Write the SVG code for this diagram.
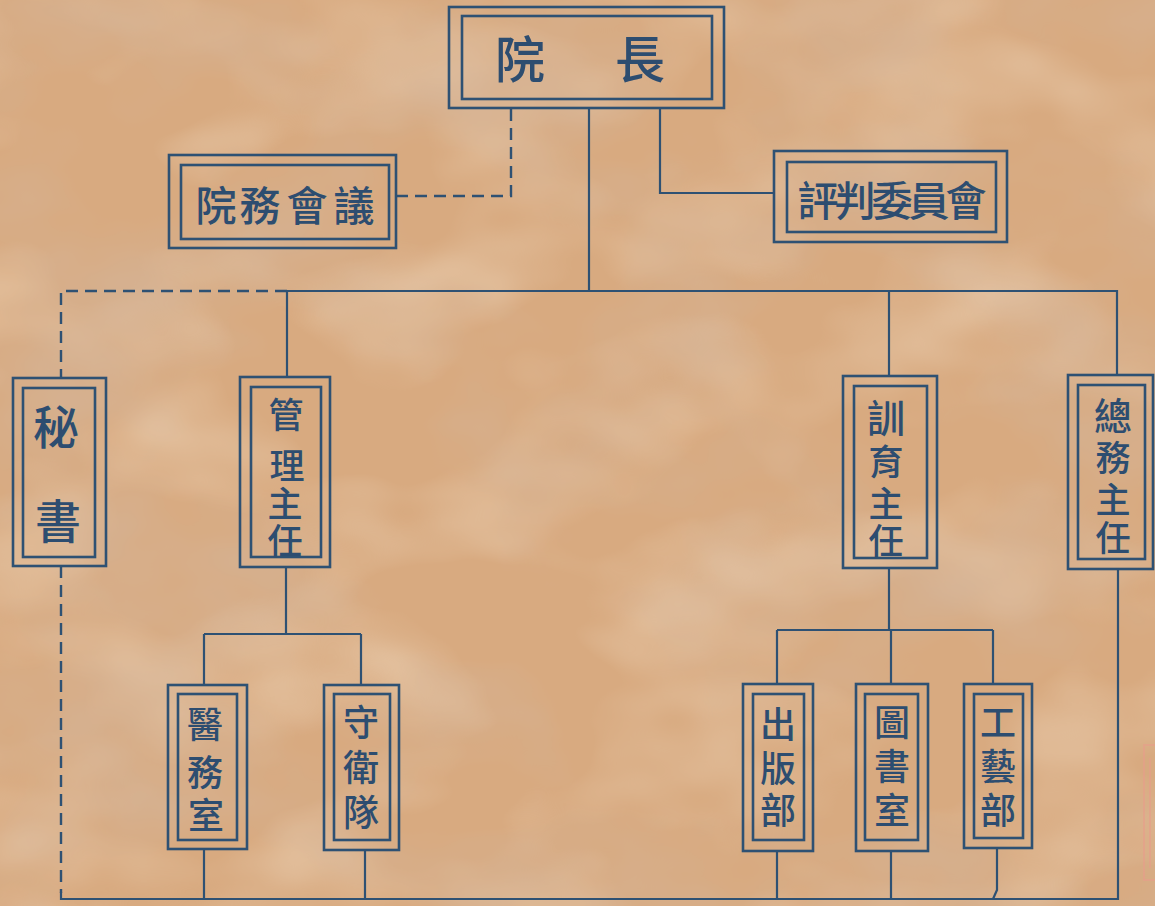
<svg xmlns="http://www.w3.org/2000/svg" width="1155" height="906" viewBox="0 0 1155 906">
<defs>
<filter id="paper" x="0" y="0" width="100%" height="100%">
<feTurbulence type="fractalNoise" baseFrequency="0.004 0.006" numOctaves="4" seed="7"/>
<feColorMatrix type="matrix" values="0 0 0 0 0.66  0 0 0 0 0.46  0 0 0 0 0.32  1.8 0 0 0 -0.8"/>
</filter>
<filter id="light" x="0" y="0" width="100%" height="100%">
<feTurbulence type="fractalNoise" baseFrequency="0.005 0.008" numOctaves="3" seed="21"/>
<feColorMatrix type="matrix" values="0 0 0 0 0.90  0 0 0 0 0.76  0 0 0 0 0.60  0 1.1 0 0 -0.5"/>
</filter>
<style>
.box{fill:none;stroke:#2e5173;stroke-width:2.6}
.ln{fill:none;stroke:#2e5173;stroke-width:2.2}
.dash{fill:none;stroke:#2e5173;stroke-width:2.4;stroke-dasharray:12 7}
.t{font-family:"Noto Sans CJK TC","Noto Sans CJK SC",sans-serif;fill:#2d4d70;text-anchor:middle;dominant-baseline:central;font-weight:500}
.big{font-size:50px}
.mid{font-size:41px}
.v{font-size:36px}
.v4{font-size:35px}
.seal{fill:none;stroke:#e89c8a;stroke-width:2;opacity:0.6}
</style>
</defs>
<rect width="1155" height="906" fill="#d8aa80"/>
<rect width="1155" height="906" filter="url(#light)"/>
<rect width="1155" height="906" filter="url(#paper)"/>

<g id="connectors">
<path class="dash" d="M511,109 V196 H397"/>
<path class="ln" d="M589,109 V291"/>
<path class="ln" d="M660,109 V193 H774"/>
<path class="dash" d="M287,291 H61 V378"/>
<path class="ln" d="M287,291 H1117 V375"/>
<path class="ln" d="M287,291 V377"/>
<path class="ln" d="M889,291 V376"/>
<path class="ln" d="M286,567 V634 M204,634 H361 M204,634 V685 M361,634 V685"/>
<path class="ln" d="M889,568 V630 M777,630 H993 M777,630 V684 M891,630 V684 M993,630 V684"/>
<path class="dash" d="M61,566 V893"/>
<path class="ln" d="M61,892 V899 H1118 V569"/>
<path class="ln" d="M204,849 V899 M365,850 V899 M777,851 V899 M891,851 V899 M997,848 V890 L993,899"/>
</g>

<g id="yuanzhang">
<rect class="box" x="449" y="7" width="275" height="101"/>
<rect class="box" x="462" y="16" width="250" height="83"/>
<text class="t big" x="520" y="56">院</text>
<text class="t big" x="640" y="56">長</text>
</g>

<g id="yuanwu">
<rect class="box" x="169" y="155" width="227" height="93"/>
<rect class="box" x="181" y="165" width="208" height="74"/>
<text class="t mid" x="216" y="203">院</text>
<text class="t mid" x="260" y="203">務</text>
<text class="t mid" x="307" y="203">會</text>
<text class="t mid" x="354" y="203">議</text>
</g>

<g id="pingpan">
<rect class="box" x="774" y="151" width="233" height="91"/>
<rect class="box" x="787" y="162" width="209" height="70"/>
<text class="t mid" x="818" y="198">評</text>
<text class="t mid" x="855" y="198">判</text>
<text class="t mid" x="892" y="198">委</text>
<text class="t mid" x="929" y="198">員</text>
<text class="t mid" x="966" y="198">會</text>
</g>

<g id="mishu">
<rect class="box" x="13" y="378" width="93" height="188"/>
<rect class="box" x="23" y="388" width="72" height="169"/>
<text class="t" style="font-size:46px" x="56" y="424">秘</text>
<text class="t" style="font-size:46px" x="58" y="518">書</text>
</g>

<g id="guanli">
<rect class="box" x="240" y="377" width="90" height="190"/>
<rect class="box" x="251" y="387" width="70" height="170"/>
<text class="t v4" x="286" y="412">管</text>
<text class="t v4" x="287" y="463">理</text>
<text class="t v4" x="285" y="501">主</text>
<text class="t v4" x="285" y="538">任</text>
</g>

<g id="xunyu">
<rect class="box" x="843" y="376" width="94" height="192"/>
<rect class="box" x="854" y="386" width="73" height="172"/>
<text class="t v4" style="font-size:38px" x="886" y="415">訓</text>
<text class="t v4" x="886" y="459">育</text>
<text class="t v4" x="886" y="501">主</text>
<text class="t v4" x="886" y="538">任</text>
</g>

<g id="zongwu">
<rect class="box" x="1068" y="375" width="85" height="194"/>
<rect class="box" x="1078" y="385" width="67" height="174"/>
<text class="t v4" style="font-size:38px" x="1113" y="413">總</text>
<text class="t v4" x="1113" y="455">務</text>
<text class="t v4" x="1113" y="497">主</text>
<text class="t v4" x="1113" y="535">任</text>
</g>

<g id="yiwu">
<rect class="box" x="168" y="685" width="79" height="164"/>
<rect class="box" x="178" y="694" width="59" height="146"/>
<text class="t v" x="205" y="722">醫</text>
<text class="t v" x="205" y="770">務</text>
<text class="t v" x="206" y="813">室</text>
</g>

<g id="shouwei">
<rect class="box" x="324" y="685" width="75" height="165"/>
<rect class="box" x="334" y="694" width="56" height="146"/>
<text class="t v" x="361" y="720">守</text>
<text class="t v" x="361" y="765">衛</text>
<text class="t v" x="361" y="810">隊</text>
</g>

<g id="chuban">
<rect class="box" x="743" y="684" width="70" height="167"/>
<rect class="box" x="753" y="694" width="51" height="146"/>
<text class="t v" x="778" y="722">出</text>
<text class="t v" x="778" y="766">版</text>
<text class="t v" x="778" y="808">部</text>
</g>

<g id="tushu">
<rect class="box" x="856" y="684" width="72" height="167"/>
<rect class="box" x="865" y="694" width="53" height="146"/>
<text class="t v" x="892" y="720">圖</text>
<text class="t v" x="892" y="764">書</text>
<text class="t v" x="892" y="808">室</text>
</g>

<g id="gongyi">
<rect class="box" x="964" y="684" width="68" height="164"/>
<rect class="box" x="974" y="694" width="49" height="144"/>
<text class="t v" x="998" y="720">工</text>
<text class="t v" x="998" y="764">藝</text>
<text class="t v" x="998" y="808">部</text>
</g>

<path class="seal" d="M1160,745 H1144 V880 H1160 M1150,758 V868"/>
</svg>
